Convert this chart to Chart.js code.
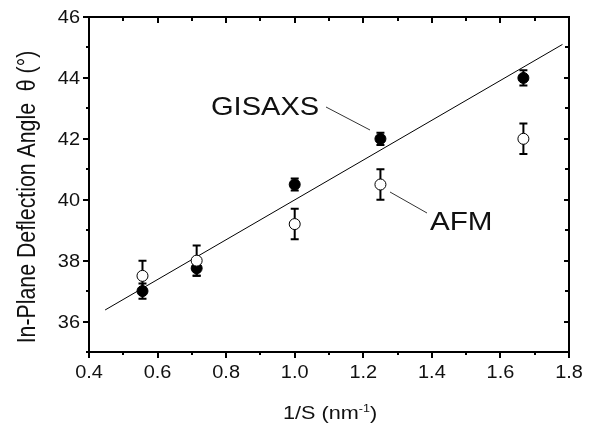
<!DOCTYPE html>
<html>
<head>
<meta charset="utf-8">
<script src="https://cdn.jsdelivr.net/npm/chart.js@4/dist/chart.umd.min.js"></script>
<style>
  html, body { margin: 0; padding: 0; background: #fff; }
  #wrap { width: 605px; height: 426px; }
</style>
</head>
<body>
<div id="wrap"><canvas id="chart" width="605" height="426"></canvas></div>
<script>
// 1/S (nm^-1)
const invS = [0.556, 0.714, 1.0, 1.25, 1.667];
const gisaxs = [37.0, 37.75, 40.5, 42.0, 44.0];
const gisaxsErr = [0.25, 0.25, 0.2, 0.2, 0.25];
const afm = [37.5, 38.0, 39.2, 40.5, 42.0];
const afmErr = [0.5, 0.5, 0.5, 0.5, 0.5];
// linear fit end points
const fitX = [0.447, 1.781];
const fitY = [36.38, 45.1];
const xTicks = [0.4, 0.6, 0.8, 1.0, 1.2, 1.4, 1.6, 1.8];
const yTicks = [36, 38, 40, 42, 44, 46];

const font = "'Liberation Sans', Arial, sans-serif";

// text in the original is a bit wide, so stretch it sideways
function text(ctx, str, x, y, size, align, rot, stretch = 1.14) {
    ctx.save();
    ctx.translate(x, y);
    ctx.scale(stretch, 1);
    if (rot) ctx.rotate(rot);
    ctx.font = size + 'px ' + font;
    ctx.textAlign = align;
    ctx.textBaseline = 'alphabetic';
    ctx.fillText(str, 0, 0);
    ctx.restore();
}

const errorBars = {
    id: 'errorBars',
    beforeDatasetsDraw(chart) {
        const ctx = chart.ctx;
        const xs = chart.scales.x, ys = chart.scales.y;
        ctx.save();
        ctx.strokeStyle = '#000';
        ctx.lineWidth = 2;
        const draw = (vals, errs) => {
            vals.forEach((v, i) => {
                const px = xs.getPixelForValue(invS[i]);
                const top = ys.getPixelForValue(v + errs[i]);
                const bot = ys.getPixelForValue(v - errs[i]);
                ctx.beginPath();
                ctx.moveTo(px, top); ctx.lineTo(px, bot);
                ctx.moveTo(px - 4, top); ctx.lineTo(px + 4, top);
                ctx.moveTo(px - 4, bot); ctx.lineTo(px + 4, bot);
                ctx.stroke();
            });
        };
        draw(afm, afmErr);
        draw(gisaxs, gisaxsErr);
        ctx.restore();
    }
};

const frame = {
    id: 'frame',
    afterDraw(chart) {
        const ctx = chart.ctx;
        const a = chart.chartArea;
        const xs = chart.scales.x, ys = chart.scales.y;
        ctx.save();
        ctx.strokeStyle = '#000';
        ctx.lineWidth = 2;
        ctx.strokeRect(a.left, a.top, a.right - a.left, a.bottom - a.top);
        ctx.beginPath();
        xs.ticks.forEach(t => {
            const px = Math.round(xs.getPixelForValue(t.value));
            const major = Math.round(t.value * 10) % 2 === 0;
            ctx.moveTo(px, a.bottom); ctx.lineTo(px, a.bottom + (major ? 6 : 3));
            ctx.moveTo(px, a.top); ctx.lineTo(px, a.top + (major ? 6 : 4));
        });
        ys.ticks.forEach(t => {
            const py = Math.round(ys.getPixelForValue(t.value));
            const major = t.value % 2 === 0;
            ctx.moveTo(a.left, py); ctx.lineTo(a.left - (major ? 6 : 3), py);
            ctx.moveTo(a.right, py); ctx.lineTo(a.right - (major ? 5 : 4), py);
        });
        ctx.stroke();

        ctx.fillStyle = '#111';
        // tick labels
        xTicks.forEach(v => text(ctx, v.toFixed(1), xs.getPixelForValue(v), 378, 17.5, 'center'));
        yTicks.forEach(v => text(ctx, String(v), 80, ys.getPixelForValue(v) + 6, 17.5, 'right'));

        // axis titles
        const xt = '1/S (nm', sup = '-1', close = ')';
        ctx.font = '19px ' + font;
        const w1 = ctx.measureText(xt).width * 1.14;
        const w3 = ctx.measureText(close).width * 1.14;
        ctx.font = '11px ' + font;
        const w2 = ctx.measureText(sup).width * 1.14;
        const x0 = (a.left + a.right) / 2 + 1 - (w1 + w2 + w3) / 2;
        text(ctx, xt, x0, 419, 19, 'left');
        text(ctx, sup, x0 + w1, 412, 11, 'left');
        text(ctx, close, x0 + w1 + w2, 419, 19, 'left');

        text(ctx, 'In-Plane Deflection Angle  \u03b8 (\u00b0)', 35, 197, 21.3, 'center', -Math.PI / 2, 1.18);

        // annotations
        text(ctx, 'GISAXS', 211, 115, 25.5, 'left');
        text(ctx, 'AFM', 430, 230, 26, 'left');
        ctx.strokeStyle = '#333';
        ctx.lineWidth = 1;
        ctx.beginPath();
        ctx.moveTo(326, 107); ctx.lineTo(370, 130);
        ctx.moveTo(390, 192); ctx.lineTo(427, 213);
        ctx.stroke();
        ctx.restore();
    }
};

new Chart(document.getElementById('chart'), {
    type: 'scatter',
    data: {
        datasets: [
            {
                label: 'AFM',
                data: invS.map((x, i) => ({ x, y: afm[i] })),
                pointRadius: 5.5,
                pointBackgroundColor: '#fff',
                pointBorderColor: '#000',
                pointBorderWidth: 1,
                order: 1
            },
            {
                label: 'GISAXS',
                data: invS.map((x, i) => ({ x, y: gisaxs[i] })),
                pointRadius: 5.5,
                pointBackgroundColor: '#000',
                pointBorderColor: '#000',
                pointBorderWidth: 1,
                order: 2
            },
            {
                type: 'line',
                label: 'fit',
                data: fitX.map((x, i) => ({ x, y: fitY[i] })),
                borderColor: '#000',
                borderWidth: 1,
                pointRadius: 0,
                fill: false,
                order: 3
            }
        ]
    },
    options: {
        responsive: false,
        animation: false,
        events: [],
        layout: { padding: { left: 0, top: 17, right: 36, bottom: 0 } },
        plugins: { legend: { display: false }, tooltip: { enabled: false } },
        scales: {
            x: {
                type: 'linear',
                min: 0.4, max: 1.8,
                afterFit: s => { s.height = 74; },
                grid: { display: false },
                border: { display: false },
                ticks: { display: false, stepSize: 0.1, autoSkip: false },
                title: { display: false }
            },
            y: {
                type: 'linear',
                min: 35, max: 46,
                afterFit: s => { s.width = 89; },
                grid: { display: false },
                border: { display: false },
                ticks: { display: false, stepSize: 1, autoSkip: false },
                title: { display: false }
            }
        }
    },
    plugins: [errorBars, frame]
});
</script>
</body>
</html>
